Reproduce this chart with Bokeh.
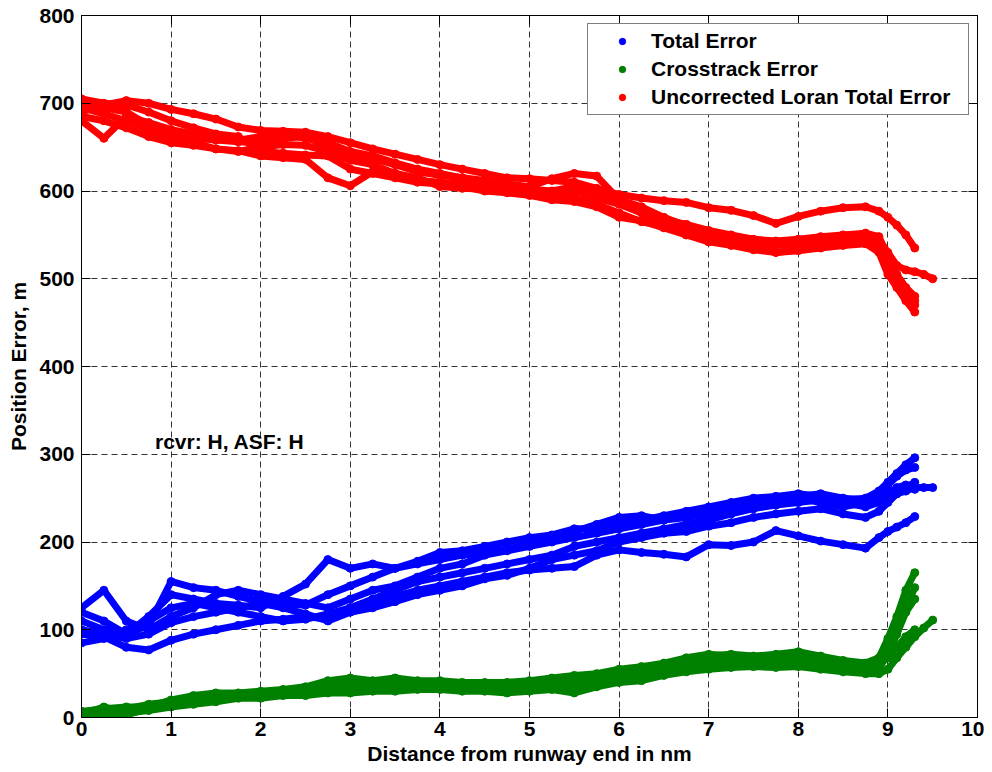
from bokeh.plotting import figure
from bokeh.models import (LinearAxis, Label, Legend, LegendItem, FixedTicker,
                          Range1d, ColumnDataSource)
from bokeh.embed import file_html
from bokeh.resources import INLINE

# ---------------- data ----------------
# distance from runway end (nm) at which each run is sampled
X_GRID = [0.0, 0.25, 0.5, 0.75, 1.0, 1.25, 1.5, 1.75, 2.0, 2.25, 2.5, 2.75,
          3.0, 3.25, 3.5, 3.75, 4.0, 4.25, 4.5, 4.75, 5.0, 5.25, 5.5, 5.75,
          6.0, 6.25, 6.5, 6.75, 7.0, 7.25, 7.5, 7.75, 8.0, 8.25, 8.5, 8.75,
          8.9, 9.0, 9.1, 9.2, 9.3, 9.4, 9.5]

# Total Error (m), one list per approach run
total_run1 = [95, 92, 80, 77, 88, 95, 100, 105, 110, 112, 115, 112, 125, 130, 138, 145,
              150, 155, 160, 165, 168, 170, 172, 185, 191, 188, 186, 183, 197, 196, 200, 213,
              207, 201, 197, 193, 205, 212, 217, 222, 229]
total_run2 = [110, 100, 95, 115, 140, 135, 130, 128, 125, 138, 152, 180, 170, 175, 170, 178,
              188, 190, 195, 200, 205, 208, 215, 215, 222, 225, 230, 235, 240, 245, 250, 252,
              255, 252, 248, 250, 258, 268, 278, 288, 296]
total_run3 = [125, 145, 110, 100, 115, 125, 140, 145, 140, 135, 130, 125, 135, 145, 150, 160,
              170, 175, 185, 190, 195, 200, 205, 210, 215, 220, 225, 230, 235, 240, 245, 248,
              250, 245, 240, 245, 250, 255, 262, 265, 260]
total_run4 = [85, 90, 100, 110, 125, 130, 125, 120, 115, 110, 112, 118, 125, 135, 145, 155,
              160, 165, 170, 175, 180, 185, 195, 200, 205, 210, 215, 220, 225, 232, 238, 242,
              245, 248, 245, 240, 245, 250, 255, 258, 262, 262, 262]
total_run5 = [120, 110, 95, 105, 155, 148, 145, 138, 132, 130, 128, 140, 150, 160, 170, 175,
              180, 185, 188, 192, 198, 205, 212, 220, 228, 230, 225, 228, 232, 238, 242, 248,
              252, 255, 250, 248, 255, 265, 275, 282, 285]
total_run6 = [100, 95, 90, 95, 108, 115, 120, 125, 130, 125, 118, 110, 120, 125, 132, 140,
              145, 150, 158, 162, 170, 180, 185, 190, 200, 205, 210, 212, 218, 222, 228, 232,
              235, 238, 232, 228, 235, 245, 255, 262, 268]

# Crosstrack Error (m)
cross_run1 = [2, 8, 10, 15, 18, 22, 25, 27, 28, 30, 33, 38, 40, 40, 42, 40,
              38, 38, 37, 36, 38, 40, 42, 45, 50, 55, 60, 65, 70, 72, 70, 72,
              75, 70, 65, 62, 68, 90, 115, 145, 165]
cross_run2 = [5, 5, 3, 10, 15, 18, 22, 25, 25, 28, 30, 32, 35, 35, 35, 36,
              35, 33, 32, 33, 35, 35, 33, 40, 45, 48, 52, 58, 62, 65, 65, 66,
              68, 65, 60, 57, 58, 75, 100, 125, 148]
cross_run3 = [0, 3, 5, 8, 12, 15, 18, 22, 22, 25, 25, 28, 28, 30, 30, 32,
              32, 30, 30, 28, 30, 32, 28, 35, 40, 42, 48, 52, 55, 57, 58, 57,
              58, 55, 52, 50, 50, 55, 68, 80, 92, 102, 111]
cross_run4 = [7, 10, 12, 12, 20, 25, 28, 28, 30, 32, 35, 42, 45, 42, 45, 42,
              42, 40, 40, 40, 42, 45, 48, 50, 55, 58, 62, 68, 72, 70, 68, 70,
              72, 68, 62, 60, 62, 68, 80, 92, 100]
cross_run5 = [3, 6, 8, 14, 17, 20, 24, 26, 27, 30, 32, 35, 38, 36, 38, 38,
              36, 35, 35, 34, 36, 38, 38, 42, 48, 52, 55, 60, 66, 68, 67, 68,
              70, 66, 62, 58, 56, 72, 95, 120, 135]
cross_run6 = [4, 12, 5, 10, 14, 18, 20, 24, 26, 27, 28, 30, 32, 33, 33, 34,
              34, 32, 33, 30, 33, 34, 30, 38, 43, 45, 50, 55, 60, 62, 62, 63,
              65, 62, 58, 55, 54]

# Uncorrected Loran Total Error (m)
loran_run1 = [690, 698, 703, 700, 693, 688, 682, 673, 669, 668, 667, 662, 655, 648, 642, 636,
              630, 625, 620, 615, 614, 612, 610, 603, 596, 592, 589, 587, 581, 578, 572, 563,
              571, 577, 581, 582, 577, 570, 561, 550, 535]
loran_run2 = [700, 695, 690, 675, 665, 660, 658, 656, 655, 660, 662, 650, 640, 637, 630, 622,
              618, 615, 612, 608, 605, 614, 620, 617, 590, 582, 570, 560, 552, 548, 543, 540,
              542, 545, 548, 550, 545, 530, 515, 510, 508, 505, 500]
loran_run3 = [685, 680, 672, 662, 655, 652, 648, 646, 640, 638, 636, 615, 606, 622, 620, 615,
              605, 603, 602, 600, 598, 595, 592, 585, 575, 565, 560, 550, 545, 540, 535, 530,
              532, 535, 538, 540, 530, 505, 490, 475, 462]
loran_run4 = [695, 688, 680, 670, 660, 655, 648, 645, 650, 653, 652, 645, 635, 630, 620, 612,
              610, 608, 605, 603, 600, 598, 600, 592, 585, 575, 562, 555, 548, 545, 540, 538,
              540, 542, 545, 545, 538, 520, 500, 485, 475]
loran_run5 = [680, 660, 685, 678, 670, 665, 660, 658, 662, 665, 660, 655, 645, 640, 632, 625,
              620, 615, 610, 605, 602, 600, 605, 600, 588, 580, 568, 562, 555, 550, 545, 543,
              545, 548, 550, 552, 548, 525, 505, 490, 480]
loran_run6 = [705, 700, 698, 690, 680, 672, 665, 662, 645, 643, 641, 640, 625, 620, 615, 610,
              608, 605, 600, 598, 595, 590, 588, 582, 570, 566, 558, 550, 542, 538, 533, 530,
              533, 538, 542, 546, 535, 515, 495, 480, 470]

SERIES = [
    ("Total Error", "#0000FF",
     [total_run1, total_run2, total_run3, total_run4, total_run5, total_run6]),
    ("Crosstrack Error", "#008000",
     [cross_run1, cross_run2, cross_run3, cross_run4, cross_run5, cross_run6]),
    ("Uncorrected Loran Total Error", "#FF0000",
     [loran_run1, loran_run2, loran_run3, loran_run4, loran_run5, loran_run6]),
]

X_TICKS = [0, 1, 2, 3, 4, 5, 6, 7, 8, 9, 10]
Y_TICKS = [0, 100, 200, 300, 400, 500, 600, 700, 800]
X_LABEL = "Distance from runway end in nm"
Y_LABEL = "Position Error, m"
NOTE_TEXT = "rcvr: H, ASF: H"
NOTE_POS = (0.82, 314)

# ---------------- figure ----------------
FONT = "Liberation Sans"

p = figure(width=984, height=772, output_backend="svg", toolbar_location=None,
           x_range=Range1d(0, 10), y_range=Range1d(0, 800),
           min_border_left=81, min_border_right=7, min_border_top=15,
           min_border_bottom=55)
p.background_fill_color = "white"
p.border_fill_color = "white"
p.outline_line_color = "black"
p.outline_line_width = 1

legend_renderers = []
for name, color, runs in SERIES:
    first = None
    for run in runs:
        src = ColumnDataSource(dict(x=X_GRID[:len(run)], y=run))
        p.line("x", "y", source=src, line_color=color, line_width=7, line_alpha=1.0)
        r = p.scatter("x", "y", source=src, size=8, marker="circle",
                      fill_color=color, line_color=color)
        if first is None:
            first = r
    legend_renderers.append((name, first))

# axes styling
for ax in (p.xaxis[0], p.yaxis[0]):
    ax.axis_line_color = "black"
    ax.axis_line_width = 1
    ax.major_tick_in = 9
    ax.major_tick_out = 0
    ax.minor_tick_in = 0
    ax.minor_tick_out = 0
    ax.major_tick_line_color = "black"
    ax.major_label_text_font = FONT
    ax.major_label_text_font_style = "bold"
    ax.major_label_text_font_size = "21px"
    ax.major_label_text_color = "black"
    ax.axis_label_text_font = FONT
    ax.axis_label_text_font_style = "bold"
    ax.axis_label_text_font_size = "21px"
    ax.axis_label_text_color = "black"

p.xaxis.ticker = FixedTicker(ticks=X_TICKS)
p.yaxis.ticker = FixedTicker(ticks=Y_TICKS)
p.xaxis.axis_label = X_LABEL
p.yaxis.axis_label = Y_LABEL
p.xaxis.major_label_standoff = 4
p.xaxis.axis_label_standoff = 3
p.yaxis.major_label_standoff = 7
p.yaxis.axis_label_standoff = 6

# mirrored tick axes on top and right (inward ticks, labels not drawn)
for loc, ticks in (("above", X_TICKS), ("right", Y_TICKS)):
    ax = LinearAxis(ticker=FixedTicker(ticks=ticks), major_label_text_font_size="1px",
                    major_label_text_color=None,
                    major_tick_in=9, major_tick_out=0, minor_tick_in=0, minor_tick_out=0,
                    major_label_standoff=0, axis_line_color="black",
                    major_tick_line_color="black")
    p.add_layout(ax, loc)

# grid
for g in (p.xgrid[0], p.ygrid[0]):
    g.grid_line_color = "black"
    g.grid_line_alpha = 0.8
    g.grid_line_dash = "6 4"
    g.grid_line_width = 1
p.xgrid.ticker = FixedTicker(ticks=X_TICKS)
p.ygrid.ticker = FixedTicker(ticks=Y_TICKS)

# annotation
p.add_layout(Label(x=NOTE_POS[0], y=NOTE_POS[1], text=NOTE_TEXT,
                   text_font=FONT, text_font_style="bold", text_font_size="21px",
                   text_color="black", text_baseline="middle", text_align="left"))

# legend
legend = Legend(items=[LegendItem(label=n, renderers=[r]) for n, r in legend_renderers],
                location="top_right", margin=8, padding=5, spacing=4,
                glyph_width=58, glyph_height=16, label_standoff=0,
                label_height=22, label_width=312,
                label_text_font=FONT, label_text_font_style="bold",
                label_text_font_size="21px", label_text_color="black",
                border_line_color="black", border_line_width=1,
                background_fill_color="white", background_fill_alpha=1.0)
p.add_layout(legend)

open("out.html", "w").write(file_html(p, INLINE))
